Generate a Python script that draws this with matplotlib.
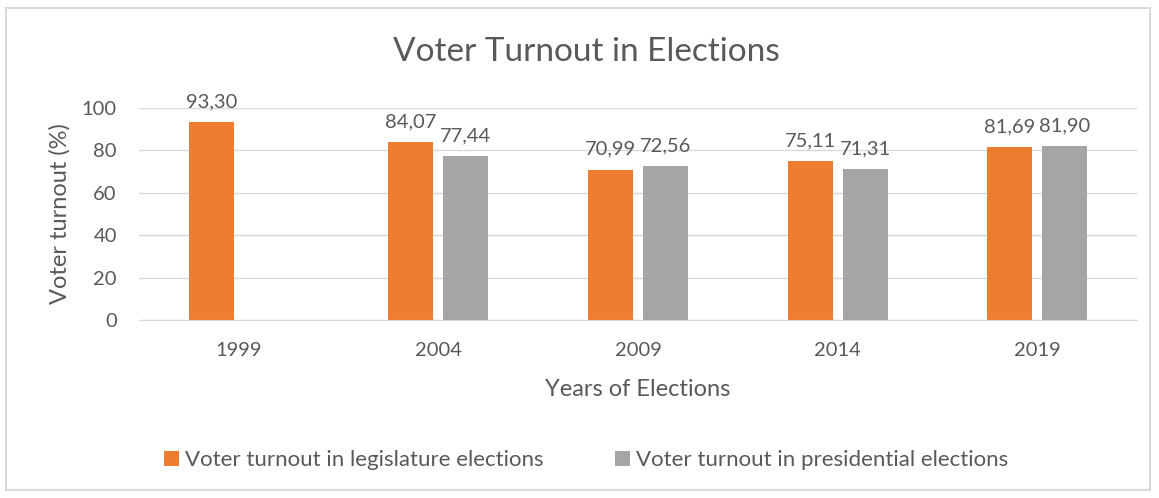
import numpy as np
import matplotlib.pyplot as plt
from matplotlib.patches import Rectangle

years = ['1999', '2004', '2009', '2014', '2019']
legislative = [93.30, 84.07, 70.99, 75.11, 81.69]
presidential = [np.nan, 77.44, 72.56, 71.31, 81.90]
labels = ['Voter turnout in legislature elections', 'Voter turnout in presidential elections']
colors = ['#ED7D31', '#A5A5A5']

plt.rcParams['font.family'] = ['Lato', 'DejaVu Sans']
txt = '#595959'

fig = plt.figure(figsize=(11.59, 4.98), dpi=100)
ax = fig.add_axes([139 / 1159, 1 - 320 / 498, 998 / 1159, 212 / 498])

# рамка вокруг всей диаграммы
fig.patches.append(Rectangle((6 / 1159, 8 / 498), 1144 / 1159, 482 / 498,
                             transform=fig.transFigure, fill=False,
                             edgecolor='#D9D9D9', linewidth=1.5))

x = np.arange(len(years))
w = 0.225
off = 0.138
b1 = ax.bar(x - off, legislative, w, color=colors[0], label=labels[0])
b2 = ax.bar(x + off, presidential, w, color=colors[1], label=labels[1])

for bars, vals in ((b1, legislative), (b2, presidential)):
    for r, v in zip(bars, vals):
        if np.isnan(v):
            continue
        ax.text(r.get_x() + r.get_width() / 2, v + 5.5, f'{v:.2f}'.replace('.', ','),
                ha='center', va='bottom', fontsize=14.5, color=txt)

ax.set_xlim(-0.5, len(years) - 0.5)
ax.set_ylim(0, 100)
ax.set_yticks(range(0, 101, 20))
ax.set_xticks(x)
ax.set_xticklabels(years)
ax.tick_params(length=0, labelsize=14.5, labelcolor=txt)
ax.tick_params(axis='x', pad=16)
ax.tick_params(axis='y', pad=16)
ax.grid(axis='y', color='#D9D9D9', linewidth=1)
ax.set_axisbelow(True)
for s in ['top', 'right', 'left']:
    ax.spines[s].set_visible(False)
ax.spines['bottom'].set_color('#D9D9D9')

ax.set_xlabel('Years of Elections', fontsize=17, color=txt, labelpad=14)
ax.set_ylabel('Voter turnout (%)', fontsize=17, color=txt, labelpad=8)
fig.text(0.506, 1 - 52 / 498, 'Voter Turnout in Elections', ha='center', va='center',
         fontsize=24, color=txt)

fig.legend(loc='center', bbox_to_anchor=(0.506, 1 - 460 / 498), ncol=2, frameon=False,
           fontsize=16, labelcolor=txt, handlelength=0.65, handleheight=0.65,
           handletextpad=0.3, columnspacing=3.2)

fig.savefig('out.png', dpi=100)
